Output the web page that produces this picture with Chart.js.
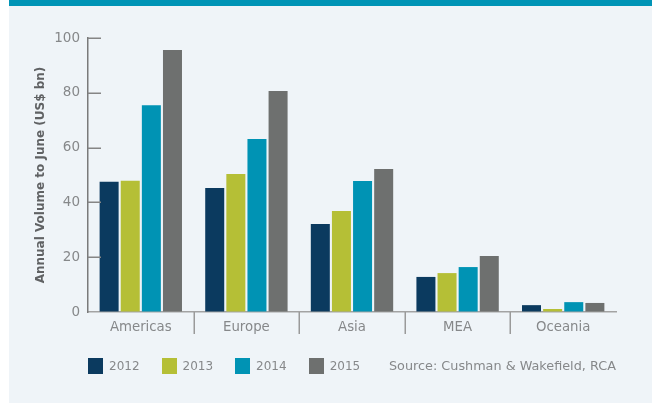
<!DOCTYPE html>
<html>
<head>
<meta charset="utf-8">
<script src="https://cdn.jsdelivr.net/npm/chart.js@4/dist/chart.umd.min.js"></script>
<style>
  body { margin: 0; background: #ffffff; font-family: "DejaVu Sans", sans-serif; }
  #page { position: relative; width: 659px; height: 403px; overflow: hidden; }
  #panel { position: absolute; left: 9px; top: 0; width: 643px; height: 403px; background: #eff4f8; border-top: 6px solid #0094b6; box-sizing: border-box; }
  #chart { position: absolute; left: 0; top: 0; }
  #legend { position: absolute; left: 88px; top: 358px; display: flex; align-items: center; font-size: 12px; color: #86888a; }
  .item { display: flex; align-items: center; margin-right: 22px; }
  .box { width: 15px; height: 16px; margin-right: 6px; }
  #source { position: absolute; left: 389px; top: 358px; line-height: 16px; font-size: 12.8px; color: #86888a; }
</style>
</head>
<body>
<div id="page">
  <div id="panel"></div>
  <canvas id="chart" width="659" height="403"></canvas>
  <div id="legend"></div>
  <div id="source">Source: Cushman &amp; Wakefield, RCA</div>
</div>
<script>
const categories = ['Americas', 'Europe', 'Asia', 'MEA', 'Oceania'];
const years = ['2012', '2013', '2014', '2015'];
const vol2012 = [47.5, 45.3, 32.1, 12.8, 2.5];
const vol2013 = [47.9, 50.4, 36.9, 14.2, 1.1];
const vol2014 = [75.5, 63.1, 47.8, 16.4, 3.6];
const vol2015 = [95.6, 80.7, 52.2, 20.4, 3.3];
const colors = ['#0b3a5f', '#b5bf36', '#0093b4', '#6e706f'];
const yTicks = [0, 20, 40, 60, 80, 100];

const series = [vol2012, vol2013, vol2014, vol2015];

// y ticks point into the plot and the x separators hang below the axis,
// so both are drawn by hand from the scales
const axisMarks = {
    id: 'axisMarks',
    afterDraw(chart) {
        const x = chart.scales.x;
        const y = chart.scales.y;
        const ctx = chart.ctx;
        ctx.save();
        ctx.strokeStyle = '#858585';
        ctx.lineWidth = 1.5;
        yTicks.forEach(v => {
            if (v === 0) return;
            const py = Math.round(y.getPixelForValue(v)) + 0.25;
            ctx.beginPath();
            ctx.moveTo(y.right, py);
            ctx.lineTo(y.right + 13, py);
            ctx.stroke();
        });
        ctx.strokeStyle = '#9a9a9a';
        for (let i = 0; i < categories.length - 1; i++) {
            const px = Math.round((x.getPixelForValue(i) + x.getPixelForValue(i + 1)) / 2) + 0.25;
            ctx.beginPath();
            ctx.moveTo(px, x.top);
            ctx.lineTo(px, x.top + 22);
            ctx.stroke();
        }
        ctx.restore();
    }
};

const ctx = document.getElementById('chart').getContext('2d');
new Chart(ctx, {
    type: 'bar',
    data: {
        labels: categories,
        datasets: years.map((yr, i) => ({
            label: yr,
            data: series[i],
            backgroundColor: colors[i],
            borderWidth: 0,
            categoryPercentage: 0.8,
            barPercentage: 0.9
        }))
    },
    options: {
        responsive: false,
        animation: false,
        devicePixelRatio: 1,
        layout: { padding: { left: 0, top: 38, right: 43, bottom: 61 } },
        plugins: {
            legend: { display: false },
            tooltip: { enabled: false }
        },
        scales: {
            x: {
                afterFit(scale) { scale.height = 30; },
                grid: { display: false, drawTicks: false },
                border: { color: '#a3a3a3', width: 1.5 },
                ticks: {
                    padding: 8,
                    color: '#86888a',
                    font: { family: 'DejaVu Sans', size: 13.3 }
                }
            },
            y: {
                min: 0,
                max: 100,
                afterFit(scale) { scale.width = 88; },
                afterBuildTicks(scale) { scale.ticks = yTicks.map(v => ({ value: v })); },
                grid: { drawOnChartArea: false, drawTicks: false, tickLength: 0 },
                border: { color: '#7a7a7a', width: 1.5 },
                ticks: {
                    padding: 8,
                    color: '#86888a',
                    font: { family: 'DejaVu Sans', size: 13.5 }
                },
                title: {
                    display: true,
                    text: 'Annual Volume to June (US$ bn)',
                    color: '#606264',
                    padding: { top: 34, bottom: 0 },
                    font: { family: 'DejaVu Sans', size: 12, weight: 'bold' }
                }
            }
        }
    },
    plugins: [axisMarks]
});

const legend = document.getElementById('legend');
years.forEach((yr, i) => {
    const item = document.createElement('div');
    item.className = 'item';
    item.innerHTML = `<span class="box" style="background:${colors[i]}"></span><span>${yr}</span>`;
    legend.appendChild(item);
});
</script>
</body>
</html>
